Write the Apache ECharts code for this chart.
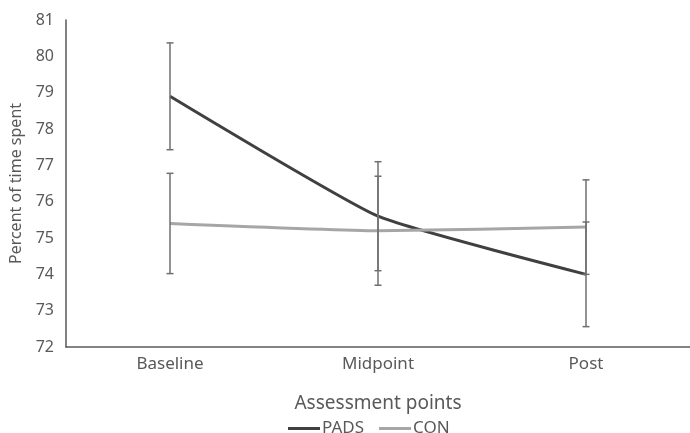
<!DOCTYPE html>
<html>
<head>
<meta charset="utf-8">
<script src="https://cdn.jsdelivr.net/npm/echarts@6/dist/echarts.min.js"></script>
<style>html,body{margin:0;padding:0;background:#fff;}#c{width:690px;height:433px;}</style>
</head>
<body>
<div id="c"></div>
<script>
const categories = ['Baseline', 'Midpoint', 'Post'];
const padsValues = [78.9, 75.6, 74.0];
const padsErrors = [1.47, 1.5, 1.44];
const conValues = [75.4, 75.2, 75.3];
const conErrors = [1.38, 1.5, 1.3];
const yTicks = [72, 81, 1];

const chart = echarts.init(document.getElementById('c'), null, {renderer: 'canvas'});
const textColor = '#595959';
const font = 'Noto Sans';

function errData(vals, errs) {
  return vals.map((v, i) => [i, v - errs[i], v + errs[i]]);
}
function renderErr(params, api) {
  const x = api.value(0);
  const lo = api.coord([x, api.value(1)]);
  const hi = api.coord([x, api.value(2)]);
  const w = 3.5;
  const st = {stroke: '#6f6f6f', lineWidth: 1.5};
  return {
    type: 'group',
    children: [
      {type: 'line', shape: {x1: lo[0], y1: lo[1], x2: hi[0], y2: hi[1]}, style: st},
      {type: 'line', shape: {x1: lo[0] - w, y1: lo[1], x2: lo[0] + w, y2: lo[1]}, style: st},
      {type: 'line', shape: {x1: hi[0] - w, y1: hi[1], x2: hi[0] + w, y2: hi[1]}, style: st}
    ]
  };
}

chart.setOption({
  animation: false,
  backgroundColor: '#ffffff',
  textStyle: {fontFamily: font, color: textColor},
  grid: {left: 66, top: 20, width: 628, height: 327, containLabel: false},
  legend: {
    left: 283, top: 415,
    icon: 'rect',
    itemWidth: 32, itemHeight: 3, itemGap: 15,
    textStyle: {fontFamily: font, fontSize: 17, color: textColor, padding: [0, 0, 0, -3]},
    data: [
      {name: 'PADS', itemStyle: {color: '#404040'}},
      {name: 'CON', itemStyle: {color: '#a6a6a6'}}
    ]
  },
  xAxis: {
    type: 'category',
    data: categories,
    boundaryGap: true,
    name: 'Assessment points',
    nameLocation: 'middle',
    nameGap: 57,
    nameTextStyle: {fontFamily: font, fontSize: 19, color: textColor, verticalAlign: 'middle'},
    axisLine: {lineStyle: {color: '#595959', width: 1.5}},
    axisTick: {show: false},
    axisLabel: {fontFamily: font, fontSize: 17, color: textColor, margin: 9}
  },
  yAxis: {
    type: 'value',
    min: yTicks[0], max: yTicks[1], interval: yTicks[2],
    name: 'Percent of time spent',
    nameLocation: 'middle',
    nameGap: 48,
    nameTextStyle: {fontFamily: font, fontSize: 16, color: textColor, verticalAlign: 'middle'},
    axisLine: {show: true, lineStyle: {color: '#595959', width: 1.5}},
    axisTick: {show: false},
    splitLine: {show: false},
    axisLabel: {fontFamily: font, fontSize: 16, color: textColor, margin: 12}
  },
  series: [
    {
      name: 'PADS', type: 'line', data: padsValues, symbol: 'none', smooth: 0.15,
      lineStyle: {color: '#404040', width: 3}, itemStyle: {color: '#404040'}, z: 2
    },
    {
      name: 'CON', type: 'line', data: conValues, symbol: 'none', smooth: 0.15,
      lineStyle: {color: '#a6a6a6', width: 3}, itemStyle: {color: '#a6a6a6'}, z: 2
    },
    {
      name: 'PADS err', type: 'custom', data: errData(padsValues, padsErrors),
      renderItem: renderErr, encode: {x: 0, y: [1, 2]}, z: 5, silent: true
    },
    {
      name: 'CON err', type: 'custom', data: errData(conValues, conErrors),
      renderItem: renderErr, encode: {x: 0, y: [1, 2]}, z: 5, silent: true
    }
  ]
});
</script>
</body>
</html>
